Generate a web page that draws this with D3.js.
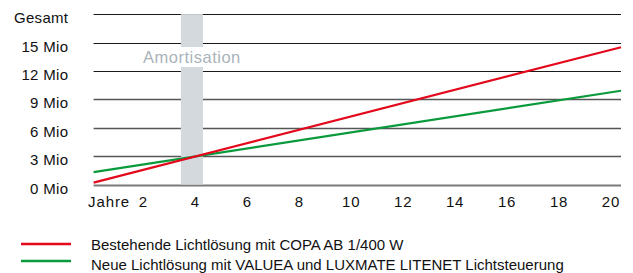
<!DOCTYPE html>
<html>
<head>
<meta charset="utf-8">
<script src="https://cdn.jsdelivr.net/npm/d3@7"></script>
<style>
  body { margin: 0; background: #fff; }
  text { font-family: "Liberation Sans", Arial, sans-serif; }
</style>
</head>
<body>
<svg id="chart" width="633" height="273"></svg>
<script>
// chart values
const years = [0.1, 20.4]
const bestehend = [0.2, 14.5]
const neu = [1.3, 9.9]
const yTicks = [0, 3, 6, 9, 12, 15]
const yTop = 18
const xTicks = [2, 4, 6, 8, 10, 12, 14, 16, 18, 20]
const amortisation = [3.46, 4.31]
const seriesNames = [
  "Bestehende Lichtlösung mit COPA AB 1/400 W",
  "Neue Lichtlösung mit VALUEA und LUXMATE LITENET Lichtsteuerung"
]
const colors = ["#e3081b", "#0a9a3c"]

const svg = d3.select('#chart')

const x = d3.scaleLinear()
  .domain([0, 20.4])
  .range([91, 621])

const y = d3.scaleLinear()
  .domain([0, 15])
  .range([184.5, 42.5])

const gridVals = yTicks.concat([yTop])

// gridlines
svg.append('g')
  .selectAll('line')
  .data(gridVals)
  .enter()
  .append('line')
  .attr('x1', x(years[0]))
  .attr('x2', x(years[1]))
  .attr('y1', d => Math.round(y(d)) + 0.5)
  .attr('y2', d => Math.round(y(d)) + 0.5)
  .attr('stroke', d => d >= 12 ? '#1a1a1a' : (d === 0 ? '#7a7a7a' : '#555'))
  .attr('stroke-width', d => d === 0 ? 2 : (d >= 12 ? 1 : 1.4))

// amortisation band (gap for the label)
const bx = x(amortisation[0])
const bw = x(amortisation[1]) - x(amortisation[0])
const band = svg.append('g')
band.append('rect')
  .attr('x', bx)
  .attr('width', bw)
  .attr('y', y(yTop))
  .attr('height', 47 - y(yTop))
  .attr('fill', '#d3d9dd')
band.append('rect')
  .attr('x', bx)
  .attr('width', bw)
  .attr('y', 67)
  .attr('height', y(0) - 67)
  .attr('fill', '#d3d9dd')

band.append('text')
  .attr('x', x((amortisation[0] + amortisation[1]) / 2))
  .attr('y', 63)
  .attr('text-anchor', 'middle')
  .attr('fill', '#aab3ba')
  .attr('font-size', 16.5)
  .attr('letter-spacing', 0.5)
  .text('Amortisation')

// y labels
svg.append('g')
  .selectAll('text')
  .data(gridVals)
  .enter()
  .append('text')
  .attr('x', 68.3)
  .attr('y', d => y(d) + 9)
  .attr('text-anchor', 'end')
  .attr('font-size', 15)
  .attr('letter-spacing', 0.3)
  .attr('fill', '#111')
  .text(d => d === yTop ? 'Gesamt' : d + ' Mio')

// x labels
svg.append('g')
  .selectAll('text')
  .data(xTicks)
  .enter()
  .append('text')
  .attr('x', d => x(d) + 0.4)
  .attr('y', 207)
  .attr('text-anchor', 'middle')
  .attr('font-size', 15)
  .attr('letter-spacing', 0.8)
  .attr('fill', '#111')
  .text(d => d)

svg.append('text')
  .attr('x', 88)
  .attr('y', 207)
  .attr('font-size', 15)
  .attr('letter-spacing', 0.9)
  .attr('fill', '#111')
  .text('Jahre')

// lines
const line = d3.line()
  .x(d => x(d[0]))
  .y(d => y(d[1]))

const series = [bestehend, neu]
svg.append('g')
  .selectAll('path')
  .data([1, 0])
  .enter()
  .append('path')
  .attr('d', i => line(years.map((yr, k) => [yr, series[i][k]])))
  .attr('fill', 'none')
  .attr('stroke', i => colors[i])
  .attr('stroke-width', 2.2)

// legend
const legendLineY = [244, 261]
const legendTextY = [249.5, 270]
const legend = svg.append('g')
  .selectAll('g')
  .data(seriesNames)
  .enter()
  .append('g')

legend.append('line')
  .attr('x1', 21)
  .attr('x2', 71)
  .attr('y1', (d, i) => legendLineY[i])
  .attr('y2', (d, i) => legendLineY[i])
  .attr('stroke', (d, i) => colors[i])
  .attr('stroke-width', 2.5)

legend.append('text')
  .attr('x', 91)
  .attr('y', (d, i) => legendTextY[i])
  .attr('font-size', 15)
  .attr('fill', '#111')
  .text(d => d)
</script>
</body>
</html>
